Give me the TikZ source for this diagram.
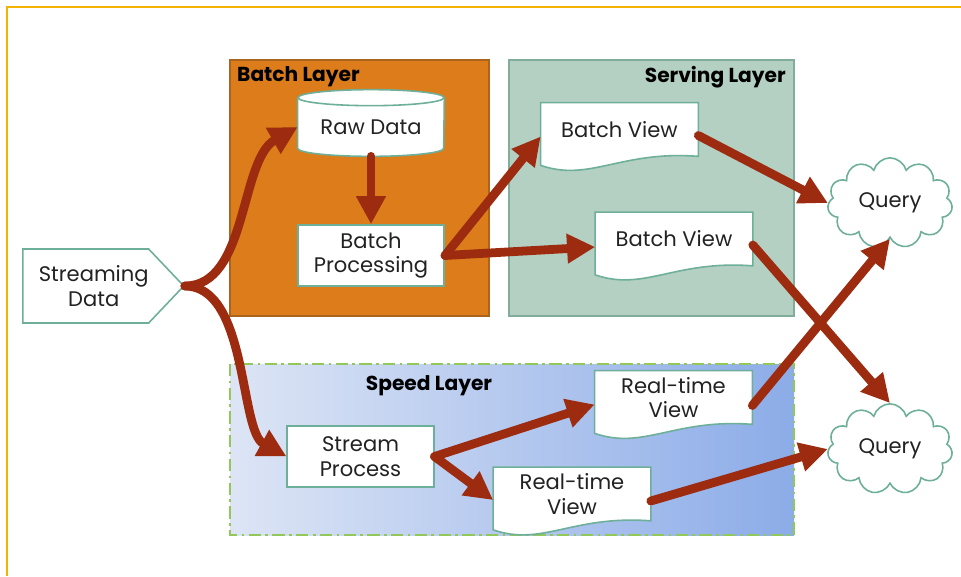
\documentclass[tikz,border=0pt]{standalone}
\usepackage{fontspec}
\setmainfont{Poppins}
\usetikzlibrary{arrows.meta,calc,shapes.symbols}

\definecolor{framegold}{HTML}{F2B400}
\definecolor{flowred}{HTML}{9C2B10}
\definecolor{batchfill}{HTML}{DC7C1A}
\definecolor{batchline}{HTML}{A9651E}
\definecolor{servefill}{HTML}{B3D0C3}
\definecolor{serveline}{HTML}{80AD9C}
\definecolor{speedlight}{HTML}{DDE5F5}
\definecolor{speeddark}{HTML}{8CACE8}
\definecolor{speedline}{HTML}{92C85A}
\definecolor{nodeline}{HTML}{6DAF99}
\definecolor{inktext}{HTML}{222222}

\pgfdeclarelayer{back}
\pgfdeclarelayer{mid}
\pgfsetlayers{back,mid,main}

\tikzset{
  flow/.style={line width=5pt, flowred, line cap=round,
    -{Triangle[length=16pt,width=16pt]}},
  label/.style={font=\fontsize{12}{14}\selectfont, text=inktext},
  box/.style={label, draw=nodeline, line width=0.9pt, fill=white, align=center,
    minimum width=2.93cm, minimum height=1.22cm, inner sep=0pt},
  doc/.style={label, align=center, minimum width=3.14cm, minimum height=1.06cm,
    inner sep=0pt},
  docline/.style={draw=nodeline, line width=0.9pt, fill=white},
  layertitle/.style={font=\bfseries\fontsize{11.5}{13}\selectfont, text=black},
  query/.style={label, cloud, cloud puffs=11, aspect=1.5, draw=nodeline,
    line width=0.9pt, fill=white, minimum width=2.5cm, minimum height=1.66cm}
}

% document outline with a wavy bottom
\newcommand{\docshape}[1]{%
  \filldraw[docline] (#1.north west) -- (#1.north east) -- (#1.south east)
    .. controls +(-78,-6) and +(49,17) .. ($(#1.south west)+(0,9)$) -- cycle;}

\begin{document}
\begin{tikzpicture}[x=0.02cm, y=-0.02cm]
  \useasboundingbox (0,0) rectangle (961,576);

  % Frame
  \draw[framegold, line width=1.2pt] (7,576) -- (7,7) -- (961,7);

  % Layers
  \begin{pgfonlayer}{back}
    \filldraw[fill=batchfill, draw=batchline, line width=0.9pt] (230,60) rectangle (489,316);
    \filldraw[fill=servefill, draw=serveline, line width=0.9pt] (509,60) rectangle (794,316);
    \shade[left color=speedlight, right color=speeddark] (230,364) rectangle (794,535);
    \draw[speedline, line width=1.2pt, dash pattern=on 7pt off 2.5pt on 1.5pt off 2.5pt]
      (230,364) rectangle (794,535);
  \end{pgfonlayer}
  \node[layertitle, anchor=west] (batchtitle) at (231,77) {Batch Layer};
  \node[layertitle, anchor=east] (servetitle) at (792,77) {Serving Layer};
  \node[layertitle] (speedtitle) at (429,386) {Speed Layer};

  % Nodes
  \node[label, signal, signal to=east, signal from=nowhere, signal pointer angle=93,
    draw=nodeline, line width=0.9pt, fill=white, align=center, inner sep=0pt,
    minimum width=3.2cm, minimum height=1.48cm, anchor=west] (stream) at (22,286)
    {\hspace*{0.32cm}Streaming\\\hspace*{0.32cm}Data};
  \node[doc, minimum width=2.92cm, minimum height=1.16cm] (raw) at (371,127) {Raw Data};
  \node[box] (bp) at (371,255.5) {Batch\\Processing};
  \node[box] (sp) at (360.5,456.5) {Stream\\Process};
  \node[doc] (bv1) at (619.5,129.5) {Batch View};
  \node[doc] (bv2) at (674,239) {Batch View};
  \node[doc] (rtv1) at (673.5,397.5) {Real-time\\View};
  \node[doc] (rtv2) at (572,494) {Real-time\\View};
  \node[query] (q1) at (890,203) {Query};
  \node[query] (q2) at (890,449) {Query};

  % Shapes behind the texts
  \begin{pgfonlayer}{mid}
    \filldraw[docline] (raw.north west) -- ($(raw.south west)+(0,-8)$)
      arc[start angle=180, end angle=0, x radius=73, y radius=8] -- (raw.north east);
    \filldraw[docline] (raw.north) ellipse[x radius=73, y radius=8];
    \foreach \d in {bv1,bv2,rtv1,rtv2} {
      \docshape{\d}
    }
  \end{pgfonlayer}

  % Flows
  \draw[flow] (stream.east) .. controls +(63,0) and +(-58,33) .. (raw.west);
  \draw[flow] (stream.east) .. controls +(63,0) and +(-47,-26) .. (sp.west);
  \draw[flow] (raw.south) -- (bp.north);
  \draw[flow] (bp.east) -- ($(bv1.west)+(0,7)$);
  \draw[flow] (bp.east) -- ($(bv2.west)+(0,8)$);
  \draw[flow] ($(bv1.east)+(0,6)$) -- (q1.west);
  \draw[flow] ($(bv2.east)+(0,6)$) -- (q2.north);
  \draw[flow] ($(rtv1.east)+(0,8)$) -- (q1.south);
  \draw[flow] (sp.east) -- ($(rtv1.west)+(0,7)$);
  \draw[flow] (sp.east) -- ($(rtv2.west)+(0,6)$);
  \draw[flow] ($(rtv2.east)+(0,7)$) -- (q2.west);
\end{tikzpicture}
\end{document}
